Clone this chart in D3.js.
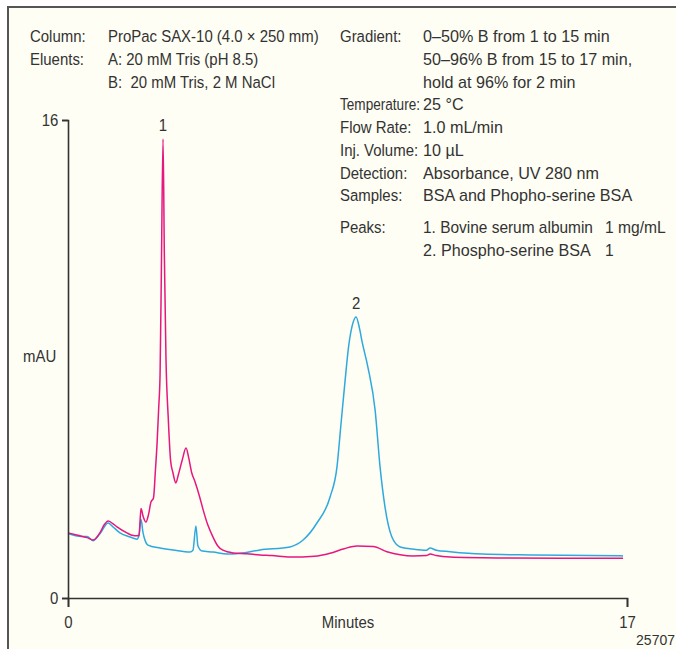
<!DOCTYPE html>
<html>
<head>
<meta charset="utf-8">
<script src="https://cdn.jsdelivr.net/npm/d3@7"></script>
<style>
  body { margin: 0; background: #fff; }
  svg text { font-family: "Liberation Sans", Arial, Helvetica, sans-serif; fill: #333; white-space: pre; }
</style>
</head>
<body>
<div id="chart"></div>
<script>
// chromatogram traces, [minutes, mAU]
var bsaTrace = [
  [0, 2.18], [0.3, 2.1], [0.58, 2.02], [0.76, 1.94], [0.97, 2.18], [1.1, 2.45], [1.22, 2.58],
  [1.35, 2.5], [1.49, 2.38], [1.79, 2.18], [1.95, 2.1], [2.1, 2.08], [2.16, 2.1], [2.22, 3.0],
  [2.28, 2.75], [2.37, 2.54], [2.45, 2.8], [2.52, 3.2], [2.6, 3.35], [2.66, 4.3], [2.71, 5.2],
  [2.76, 6.4], [2.8, 7.5], [2.84, 11], [2.89, 15.36], [2.93, 11.5], [2.98, 8.0], [3.05, 6.0],
  [3.12, 4.6], [3.19, 4.2], [3.28, 3.85], [3.35, 4.1], [3.47, 4.6], [3.59, 5.02], [3.67, 4.7],
  [3.76, 4.2], [3.86, 3.9], [4.0, 3.4], [4.11, 2.95], [4.25, 2.45], [4.41, 2.04], [4.55, 1.75],
  [4.71, 1.6], [5.02, 1.51], [5.44, 1.48], [5.84, 1.44], [6.2, 1.42], [6.75, 1.37], [7.5, 1.4],
  [7.97, 1.5], [8.4, 1.65], [8.79, 1.74], [9.28, 1.72], [9.7, 1.55], [10.1, 1.45], [10.49, 1.41],
  [10.9, 1.42], [11.01, 1.47], [11.2, 1.42], [11.62, 1.37], [13.14, 1.34], [15, 1.33], [16.88, 1.33]
];

var phosphoTrace = [
  [0, 2.16], [0.4, 2.06], [0.58, 2.06], [0.76, 1.92], [0.97, 2.15], [1.22, 2.51], [1.35, 2.4],
  [1.58, 2.18], [1.89, 2.04], [2.1, 1.97], [2.16, 2.1], [2.22, 2.64], [2.28, 2.2], [2.34, 1.94],
  [2.43, 1.77], [2.8, 1.67], [3.19, 1.61], [3.71, 1.54], [3.8, 1.6], [3.89, 2.41], [3.95, 1.75],
  [4.08, 1.57], [4.41, 1.54], [4.84, 1.47], [5.23, 1.5], [5.84, 1.61], [6.75, 1.71], [7.15, 1.94],
  [7.57, 2.51], [7.97, 3.38], [8.18, 4.39], [8.3, 5.8], [8.42, 7.2], [8.54, 8.47], [8.64, 9.1],
  [8.76, 9.41], [8.87, 9.0], [8.94, 8.6], [9.12, 7.73], [9.34, 6.29], [9.49, 4.39], [9.64, 3.05],
  [9.85, 2.04], [10.1, 1.71], [10.49, 1.64], [10.9, 1.6], [11.01, 1.67], [11.2, 1.6], [11.62, 1.55],
  [12.6, 1.47], [14.15, 1.44], [16.88, 1.41]
];

var xTicks = [0, 17];
var yTicks = [0, 16];

// peak labels: [label, minutes, mAU]
var peakLabels = [["1", 2.89, 15.36], ["2", 8.76, 9.41]];

// condition text rows
var leftLabels = ["Column:", "Eluents:", ""];
var leftValues = ["ProPac SAX-10 (4.0 \u00d7 250 mm)", "A: 20 mM Tris (pH 8.5)", "B:  20 mM Tris, 2 M NaCl"];
var rightLabels = ["Gradient:", "", "", "Temperature:", "Flow Rate:", "Inj. Volume:", "Detection:", "Samples:"];
var rightValues = ["0\u201350% B from 1 to 15 min", "50\u201396% B from 15 to 17 min,", "hold at 96% for 2 min",
  "25 \u00b0C", "1.0 mL/min", "10 \u00b5L", "Absorbance, UV 280 nm", "BSA and Phopho-serine BSA"];
var peakNames = ["1. Bovine serum albumin", "2. Phospho-serine BSA"];
var peakConc = ["1 mg/mL", "1"];

var width = 676, height = 649;
var x0 = 68, x1 = 627, yTop = 120, yBottom = 598;
var fs = 17, sx = 0.88;   // condensed look: squeeze glyphs horizontally

var svg = d3.select("#chart").append("svg")
    .attr("width", width)
    .attr("height", height);

// panel background + frame
svg.append("rect").attr("x", 8).attr("y", 7).attr("width", width - 8).attr("height", height - 7)
    .attr("fill", "#fefef4");
svg.append("path").attr("d", "M8," + height + "V7H" + width)
    .attr("fill", "none").attr("stroke", "#555").attr("stroke-width", 2);

// text helper, squeezes to maxW if given
function addText(tx, ty, str, opts) {
    opts = opts || {};
    var size = opts.size || fs, scale = opts.sx || sx;
    var t = svg.append("text")
        .attr("transform", "translate(" + tx + "," + ty + ") scale(" + scale + ",1)")
        .attr("text-anchor", opts.anchor || "start")
        .style("font-size", size + "px")
        .text(str);
    if (opts.maxW) {
        var w = t.node().getComputedTextLength();
        if (w * scale > opts.maxW) {
            t.attr("transform", "translate(" + tx + "," + ty + ") scale(" + (opts.maxW / w) + ",1)");
        }
    }
    return t;
}

var x = d3.scaleLinear().domain([0, 17]).range([x0, x1]);
var y = d3.scaleLinear().domain([0, 16]).range([yBottom, yTop]);

var line = d3.line()
    .x(function (d) { return x(d[0]); })
    .y(function (d) { return y(d[1]); })
    .curve(d3.curveMonotoneX);

svg.append("path").datum(phosphoTrace)
    .attr("d", line).attr("fill", "none")
    .attr("stroke", "#2ea9df").attr("stroke-width", 1.5);

svg.append("path").datum(bsaTrace)
    .attr("d", line).attr("fill", "none")
    .attr("stroke", "#e6177f").attr("stroke-width", 1.5);

// axes
var yAxis = svg.append("g")
    .attr("transform", "translate(" + x0 + ",0)")
    .call(d3.axisLeft(y).tickValues(yTicks).tickSize(6).tickPadding(5));
var xAxis = svg.append("g")
    .attr("transform", "translate(0," + yBottom + ")")
    .call(d3.axisBottom(x).tickValues(xTicks).tickSize(9).tickPadding(9));

[xAxis, yAxis].forEach(function (g) {
    g.attr("font-family", null).attr("font-size", null);
    g.selectAll("path, line").attr("stroke", "#333").attr("stroke-width", 1.6);
    g.selectAll("text").style("font-size", fs + "px").attr("fill", "#333")
        .attr("transform", "scale(" + sx + ",1)");
});

addText(348, 628, "Minutes", {anchor: "middle"});
addText(23, 362, "mAU");
addText(675, 645, "25707", {size: 14, sx: 1, anchor: "end"});

peakLabels.forEach(function (d) {
    addText(x(d[1]), y(d[2]) - 8, d[0], {anchor: "middle"});
});

// conditions block
var rowH = 22.75;
leftLabels.forEach(function (t, i) {
    addText(30, 42 + i * rowH, t, {maxW: 72});
    addText(108, 42 + i * rowH, leftValues[i], {maxW: 215});
});
rightLabels.forEach(function (t, i) {
    addText(340, 42 + i * rowH, t, {maxW: 80});
    addText(423, 42 + i * rowH, rightValues[i], {sx: 0.95});
});

addText(340, 233, "Peaks:");
peakNames.forEach(function (t, i) {
    addText(423, 233 + i * rowH, t, {sx: 0.95, maxW: 170});
    addText(605, 233 + i * rowH, peakConc[i], {sx: 0.92});
});
</script>
</body>
</html>
